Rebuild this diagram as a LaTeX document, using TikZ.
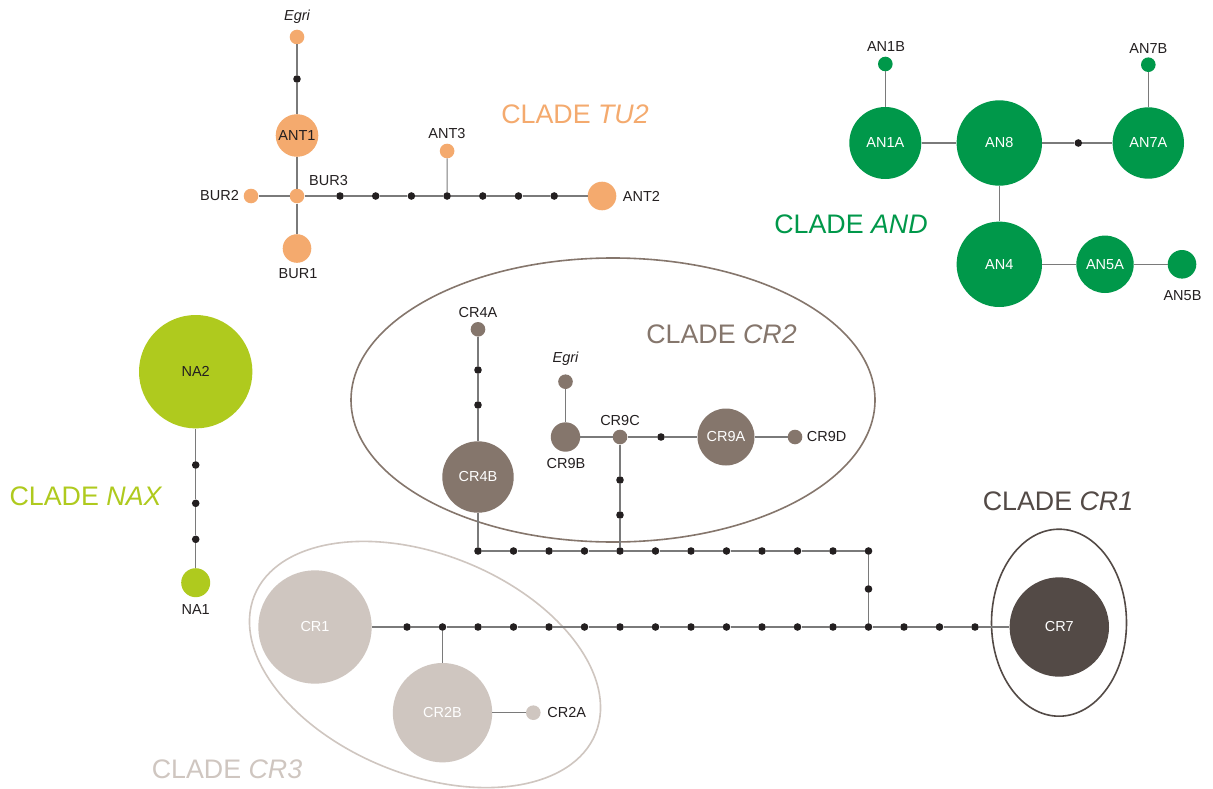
\documentclass[tikz,border=0pt]{standalone}
\usepackage{fontspec}
\setmainfont{Liberation Sans}
\definecolor{orng}{HTML}{F4AA6E}
\definecolor{grn}{HTML}{00984A}
\definecolor{limec}{HTML}{AFCA1E}
\definecolor{crtwo}{HTML}{85766C}
\definecolor{crthree}{HTML}{CFC6C0}
\definecolor{crone}{HTML}{534A46}
\definecolor{edgegray}{HTML}{7A7A7A}
\definecolor{dotc}{HTML}{231F20}
\definecolor{txt}{HTML}{231F20}
\newcommand\hlabfont{\fontsize{14.5}{17}\selectfont}
\newcommand\hcladefont{\fontsize{26.8}{30}\selectfont}
\tikzset{
  hap/.style={circle, inner sep=0pt, draw=none, font=\hlabfont},
  mdot/.style={circle, fill=dotc, inner sep=0pt, minimum size=7.6pt},
  lab/.style={text=txt, font=\hlabfont, inner sep=0pt},
  edge/.style={draw=edgegray, line width=1.2pt},
  clade/.style={font=\hcladefont, inner sep=0pt},
  encl/.style={line width=1.6pt}
}
\begin{document}
\begin{tikzpicture}[x=1pt,y=-1pt]
\useasboundingbox[fill=white] (0,0) rectangle (1213,789);

% ---------------- enclosures
\draw[encl, draw=crtwo] (613,400) ellipse [x radius=262, y radius=142];
\draw[encl, draw=crthree, rotate around={-22:(425,664.5)}] (425,664.5) ellipse [x radius=184, y radius=110];
\draw[encl, draw=crone] (1059,622.7) ellipse [x radius=67.5, y radius=93.5];

% ---------------- CLADE TU2
\node[hap, fill=orng, minimum size=14.6pt] (tEgri) at (297,37) {};
\node[lab] (tEgriL) at (297,16.5) {\itshape Egri};
\node[mdot] (tu0) at (297,79) {};
\node[hap, fill=orng, minimum size=42.6pt, text=txt] (ANT1) at (297,135.5) {ANT1};
\node[hap, fill=orng, minimum size=14.6pt] (BUR3) at (297,196) {};
\node[lab] (BUR3L) at (328.5,181) {BUR3};
\node[hap, fill=orng, minimum size=14.6pt] (BUR2) at (251,196) {};
\node[lab] (BUR2L) at (219.5,196) {BUR2};
\node[hap, fill=orng, minimum size=28.6pt] (BUR1) at (297,248.5) {};
\node[lab] (BUR1L) at (298,274) {BUR1};
\foreach \i in {1,...,7} \node[mdot] (tu\i) at ({340+35.7*(\i-1)},196) {};
\node[hap, fill=orng, minimum size=14.6pt] (ANT3) at (447.1,151) {};
\node[lab] (ANT3L) at (447,134) {ANT3};
\node[hap, fill=orng, minimum size=28.6pt] (ANT2) at (602,196) {};
\node[lab] (ANT2L) at (641.5,196) {ANT2};
\node[clade, text=orng] (cTU2) at (575,114) {CLADE \textit{TU2}};

\draw[edge] (tEgri) -- (tu0) -- (ANT1) -- (BUR3);
\draw[edge] (BUR2) -- (BUR3);
\draw[edge] (BUR3) -- (BUR1);
\draw[edge] (BUR3) -- (tu1);
\foreach \i [evaluate=\i as \n using int(\i+1)] in {1,...,6} \draw[edge] (tu\i) -- (tu\n);
\draw[edge] (tu7) -- (ANT2);
\draw[edge] (tu4) -- (ANT3);

% ---------------- CLADE AND
\node[hap, fill=grn, minimum size=14.6pt] (AN1B) at (885.3,64) {};
\node[lab] (AN1BL) at (886,47) {AN1B};
\node[hap, fill=grn, minimum size=72pt, text=white] (AN1A) at (885.3,143) {AN1A};
\node[hap, fill=grn, minimum size=85.4pt, text=white] (AN8) at (999.3,143) {AN8};
\node[mdot] (and0) at (1078.3,143) {};
\node[hap, fill=grn, minimum size=71.4pt, text=white] (AN7A) at (1148.3,143) {AN7A};
\node[hap, fill=grn, minimum size=14.6pt] (AN7B) at (1148.3,64.7) {};
\node[lab] (AN7BL) at (1148.3,48.5) {AN7B};
\node[hap, fill=grn, minimum size=85.4pt, text=white] (AN4) at (999.3,264.3) {AN4};
\node[hap, fill=grn, minimum size=57.4pt, text=white] (AN5A) at (1105,264.3) {AN5A};
\node[hap, fill=grn, minimum size=28.6pt] (AN5B) at (1182,264.3) {};
\node[lab] (AN5BL) at (1182.5,295.5) {AN5B};
\node[clade, text=grn] (cAND) at (851,224) {CLADE \textit{AND}};

\draw[edge] (AN1B) -- (AN1A) -- (AN8) -- (and0) -- (AN7A) -- (AN7B);
\draw[edge] (AN8) -- (AN4) -- (AN5A) -- (AN5B);

% ---------------- CLADE NAX
\node[hap, fill=limec, minimum size=113.4pt, text=txt] (NA2) at (195.7,371.7) {NA2};
\node[mdot] (na1d) at (195.7,465) {};
\node[mdot] (na2d) at (195.7,503.3) {};
\node[mdot] (na3d) at (195.7,539.3) {};
\node[hap, fill=limec, minimum size=29pt] (NA1) at (195.7,582.7) {};
\node[lab] (NA1L) at (195.7,610) {NA1};
\node[clade, text=limec] (cNAX) at (86,496) {CLADE \textit{NAX}};
\draw[edge] (NA2) -- (na1d) -- (na2d) -- (na3d) -- (NA1);

% ---------------- CLADE CR2
\node[hap, fill=crtwo, minimum size=14.6pt] (CR4A) at (478,329.3) {};
\node[lab] (CR4AL) at (478,312.3) {CR4A};
\node[mdot] (c4a) at (478,370) {};
\node[mdot] (c4b) at (478,405) {};
\node[hap, fill=crtwo, minimum size=71.4pt, text=white] (CR4B) at (478,477) {CR4B};
\node[hap, fill=crtwo, minimum size=14.6pt] (cEgri) at (565.5,381.7) {};
\node[lab] (cEgriL) at (565.5,359) {\itshape Egri};
\node[hap, fill=crtwo, minimum size=29.4pt] (CR9B) at (565.5,437) {};
\node[lab] (CR9BL) at (566,464) {CR9B};
\node[hap, fill=crtwo, minimum size=14.6pt] (CR9C) at (620,437) {};
\node[lab] (CR9CL) at (620,420.5) {CR9C};
\node[mdot] (c9d) at (661,437) {};
\node[hap, fill=crtwo, minimum size=57pt, text=white] (CR9A) at (726,437) {CR9A};
\node[hap, fill=crtwo, minimum size=14.6pt] (CR9D) at (795,437) {};
\node[lab] (CR9DL) at (826.7,437) {CR9D};
\node[mdot] (c9v1) at (620,480) {};
\node[mdot] (c9v2) at (620,515) {};
\node[clade, text=crtwo] (cCR2) at (721.5,334.3) {CLADE \textit{CR2}};

\draw[edge] (CR4A) -- (c4a) -- (c4b) -- (CR4B);
\draw[edge] (cEgri) -- (CR9B) -- (CR9C) -- (c9d) -- (CR9A) -- (CR9D);
\draw[edge] (CR9C) -- (c9v1) -- (c9v2);

% ---------------- connecting rows
\foreach \k in {2,...,13} \node[mdot] (t\k) at ({407+35.5*\k},551) {};
\foreach \k in {0,...,16} \node[mdot] (b\k) at ({407+35.5*\k},627) {};
\node[mdot] (rv) at (868.5,589) {};
\foreach \k [evaluate=\k as \n using int(\k+1)] in {2,...,12} \draw[edge] (t\k) -- (t\n);
\foreach \k [evaluate=\k as \n using int(\k+1)] in {0,...,15} \draw[edge] (b\k) -- (b\n);
\draw[edge] (CR4B) -- (t2);
\draw[edge] (c9v2) -- (t6);
\draw[edge] (t13) -- (rv) -- (b13);

% ---------------- CLADE CR3
\node[hap, fill=crthree, minimum size=113.4pt, text=white] (CR1) at (315,627) {CR1};
\node[hap, fill=crthree, minimum size=99.4pt, text=white] (CR2B) at (442.5,712.7) {CR2B};
\node[hap, fill=crthree, minimum size=14.6pt] (CR2A) at (533.3,712.7) {};
\node[lab] (CR2AL) at (566.7,712.7) {CR2A};
\node[clade, text=crthree] (cCR3) at (227,769.3) {CLADE \textit{CR3}};
\draw[edge] (CR1) -- (b0);
\draw[edge] (b1) -- (CR2B) -- (CR2A);

% ---------------- CLADE CR1
\node[hap, fill=crone, minimum size=99.4pt, text=white] (CR7) at (1059.3,627) {CR7};
\node[clade, text=crone] (cCR1) at (1058,501.7) {CLADE \textit{CR1}};
\draw[edge] (b16) -- (CR7);
\end{tikzpicture}
\end{document}
